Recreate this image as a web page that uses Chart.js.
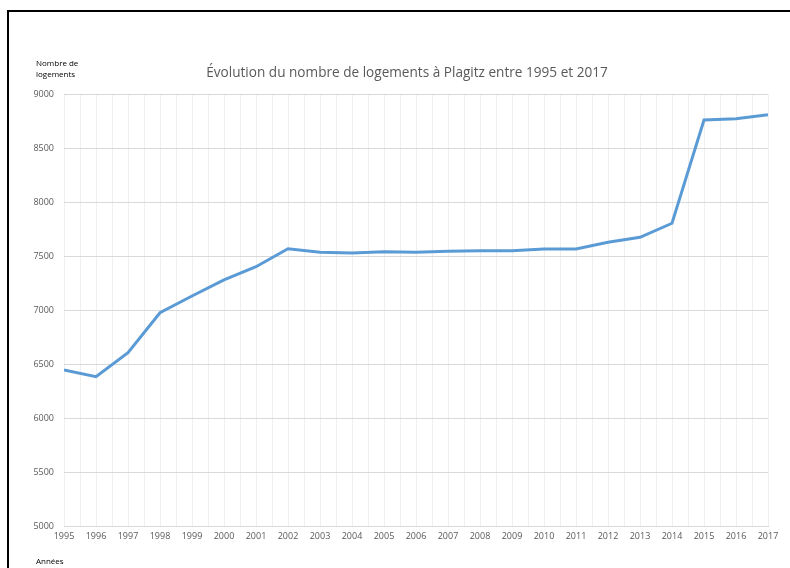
<!DOCTYPE html>
<html>
<head>
<meta charset="utf-8">
<script src="https://cdn.jsdelivr.net/npm/chart.js@4/dist/chart.umd.min.js"></script>
<style>
  html, body { margin: 0; padding: 0; background: #fff; }
  #wrap { position: relative; width: 790px; height: 568px; overflow: hidden; font-family: "Open Sans", sans-serif; }
  #frame { position: absolute; left: 7px; top: 10px; width: 800px; height: 600px; border-left: 2px solid #000; border-top: 2px solid #000; }
  canvas { position: absolute; left: 0; top: 0; }
  .lbl { position: absolute; color: #000; font-size: 8px; line-height: 11px; }
  #title { position: absolute; left: 55px; width: 704px; top: 62px; text-align: center; color: #595959; font-size: 13.6px; }
</style>
</head>
<body>
<div id="wrap">
  <canvas id="chart" width="790" height="568"></canvas>
  <div id="frame"></div>
  <div id="title">Évolution du nombre de logements à Plagitz entre 1995 et 2017</div>
  <div class="lbl" style="left:36px; top:57px;">Nombre de<br>logements</div>
  <div class="lbl" style="left:36px; top:555px;">Années</div>
</div>
<script>
const years = [1995, 1996, 1997, 1998, 1999, 2000, 2001, 2002, 2003, 2004, 2005, 2006,
  2007, 2008, 2009, 2010, 2011, 2012, 2013, 2014, 2015, 2016, 2017];
const logements = [6444, 6383, 6605, 6975, 7130, 7278, 7401, 7567, 7534, 7528, 7540, 7534,
  7543, 7549, 7549, 7565, 7565, 7627, 7673, 7803, 8759, 8771, 8808];
const yMin = 5000, yMax = 9000, yStep = 500;

new Chart(document.getElementById('chart'), {
  type: 'line',
  data: {
    datasets: [{
      data: years.map((y, i) => ({ x: y, y: logements[i] })),
      borderColor: '#5b9bd5',
      borderWidth: 3,
      pointRadius: 0,
      tension: 0,
      fill: false,
    }],
  },
  options: {
    responsive: false,
    animation: false,
    events: [],
    layout: { padding: { top: 94, right: 22, left: 0, bottom: 0 } },
    plugins: { legend: { display: false }, tooltip: { enabled: false } },
    scales: {
      x: {
        type: 'linear',
        min: years[0],
        max: years[years.length - 1],
        afterFit: s => { s.height = 42; },
        grid: { color: '#efefef', drawTicks: false },
        border: { color: '#d9d9d9' },
        ticks: {
          stepSize: 0.5,
          autoSkip: false,
          maxRotation: 0,
          padding: 5,
          color: '#595959',
          font: { family: 'Open Sans', size: 9 },
          callback: v => Number.isInteger(v) ? String(v) : '',
        },
      },
      y: {
        min: yMin,
        max: yMax,
        afterFit: s => { s.width = 64; },
        grid: { color: '#d9d9d9', drawTicks: false },
        border: { display: false },
        ticks: {
          stepSize: yStep,
          padding: 10,
          color: '#595959',
          font: { family: 'Open Sans', size: 9 },
          callback: v => String(v),
        },
      },
    },
  },
});
</script>
</body>
</html>
